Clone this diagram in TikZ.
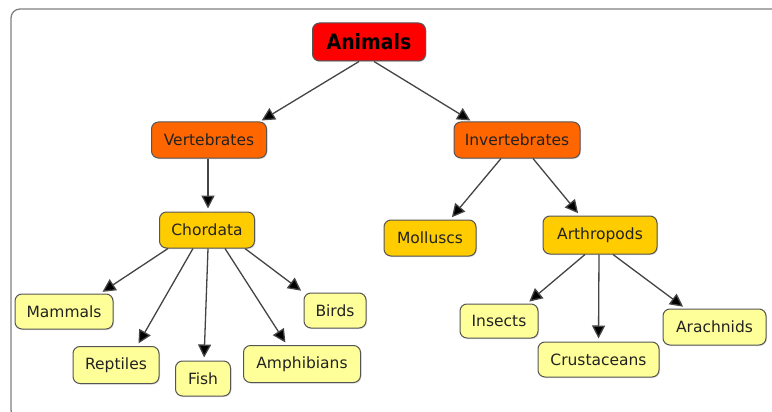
\documentclass[tikz,border=0pt]{standalone}
\usepackage{fontspec}
\setmainfont{DejaVu Sans}
\newfontfamily\condfont{DejaVu Sans Condensed}
\usetikzlibrary{arrows.meta,shadows}
\definecolor{cred}{HTML}{FF0000}
\definecolor{corange}{HTML}{FF6600}
\definecolor{cgold}{HTML}{FFCC00}
\definecolor{cpale}{HTML}{FFFF99}
\definecolor{cborder}{HTML}{555555}
\definecolor{cline}{HTML}{444444}
\definecolor{ctext}{HTML}{222222}
\definecolor{cframe}{HTML}{808080}
\tikzset{
  box/.style={draw=cborder, line width=1pt, rounded corners=7pt, text=ctext,
    inner sep=0pt, font=\fontsize{15.5}{18}\selectfont,
    drop shadow={shadow xshift=1pt, shadow yshift=-1pt, opacity=0.25}},
  lvl0/.style={box, fill=cred, font=\condfont\bfseries\fontsize{21}{24}\selectfont, text=black},
  lvl1/.style={box, fill=corange},
  lvl2/.style={box, fill=cgold},
  lvl3/.style={box, fill=cpale},
  link/.style={draw=cline, line width=1.3pt, -{Triangle[length=13pt,width=13pt,fill=black]}}
}
\begin{document}
\begin{tikzpicture}[x=1pt,y=-1pt]
\useasboundingbox (0,0) rectangle (772,412);
\fill[white] (0,0) rectangle (772,412);
\draw[cframe, line width=1.3pt, rounded corners=9pt] (11,9) rectangle (800,419);

\node[lvl0, minimum width=113pt, minimum height=38pt] (anim) at (369,42) {Animals};
\node[lvl1, minimum width=115pt, minimum height=36pt] (vert) at (209,140) {Vertebrates};
\node[lvl1, minimum width=126pt, minimum height=36pt] (invert) at (517,140) {Invertebrates};
\node[lvl2, minimum width=95pt, minimum height=36pt] (chord) at (207,230) {Chordata};
\node[lvl2, minimum width=92pt, minimum height=36pt] (moll) at (430,238) {Molluscs};
\node[lvl2, minimum width=114pt, minimum height=38pt] (arth) at (600,235) {Arthropods};
\node[lvl3, minimum width=98pt, minimum height=35pt] (mamm) at (64,311.5) {Mammals};
\node[lvl3, minimum width=86pt, minimum height=37pt] (rept) at (116,365) {Reptiles};
\node[lvl3, minimum width=55pt, minimum height=35pt] (fish) at (203,378.5) {Fish};
\node[lvl3, minimum width=117pt, minimum height=37pt] (amph) at (302,364) {Amphibians};
\node[lvl3, minimum width=62pt, minimum height=35pt] (birds) at (335,310.5) {Birds};
\node[lvl3, minimum width=78pt, minimum height=34pt] (insects) at (499,321) {Insects};
\node[lvl3, minimum width=121pt, minimum height=35pt] (crust) at (598.5,359.5) {Crustaceans};
\node[lvl3, minimum width=103pt, minimum height=36pt] (arach) at (714.5,327) {Arachnids};

\draw[link, shorten >=2pt] ([xshift=-10pt]anim.south) -- ([xshift=51pt]vert.north);
\draw[link, shorten >=2pt] ([xshift=5pt]anim.south) -- ([xshift=-45pt]invert.north);
\draw[link, shorten >=3pt] ([xshift=-1pt]vert.south) -- ([xshift=1pt]chord.north);
\draw[link, shorten >=3pt] ([xshift=-16pt]invert.south) -- ([xshift=20pt]moll.north);
\draw[link, shorten >=3pt] ([xshift=16pt]invert.south) -- ([xshift=-20pt]arth.north);
\draw[link, shorten >=3pt] ([xshift=-39pt]chord.south) -- ([xshift=36pt]mamm.north);
\draw[link, shorten >=3pt] ([xshift=-14pt]chord.south) -- ([xshift=21pt]rept.north);
\draw[link, shorten >=3pt] ([xshift=1pt]chord.south) -- ([xshift=1pt]fish.north);
\draw[link, shorten >=3pt] ([xshift=18pt]chord.south) -- ([xshift=-15pt]amph.north);
\draw[link, shorten >=3pt] ([xshift=38pt]chord.south) -- (birds.north west);
\draw[link, shorten >=3pt] ([xshift=-15pt]arth.south) -- ([xshift=28pt]insects.north);
\draw[link, shorten >=3pt] ([xshift=-1pt]arth.south) -- ([xshift=0pt]crust.north);
\draw[link, shorten >=3pt] ([xshift=13pt]arth.south) -- ([xshift=-29pt]arach.north);
\end{tikzpicture}
\end{document}
